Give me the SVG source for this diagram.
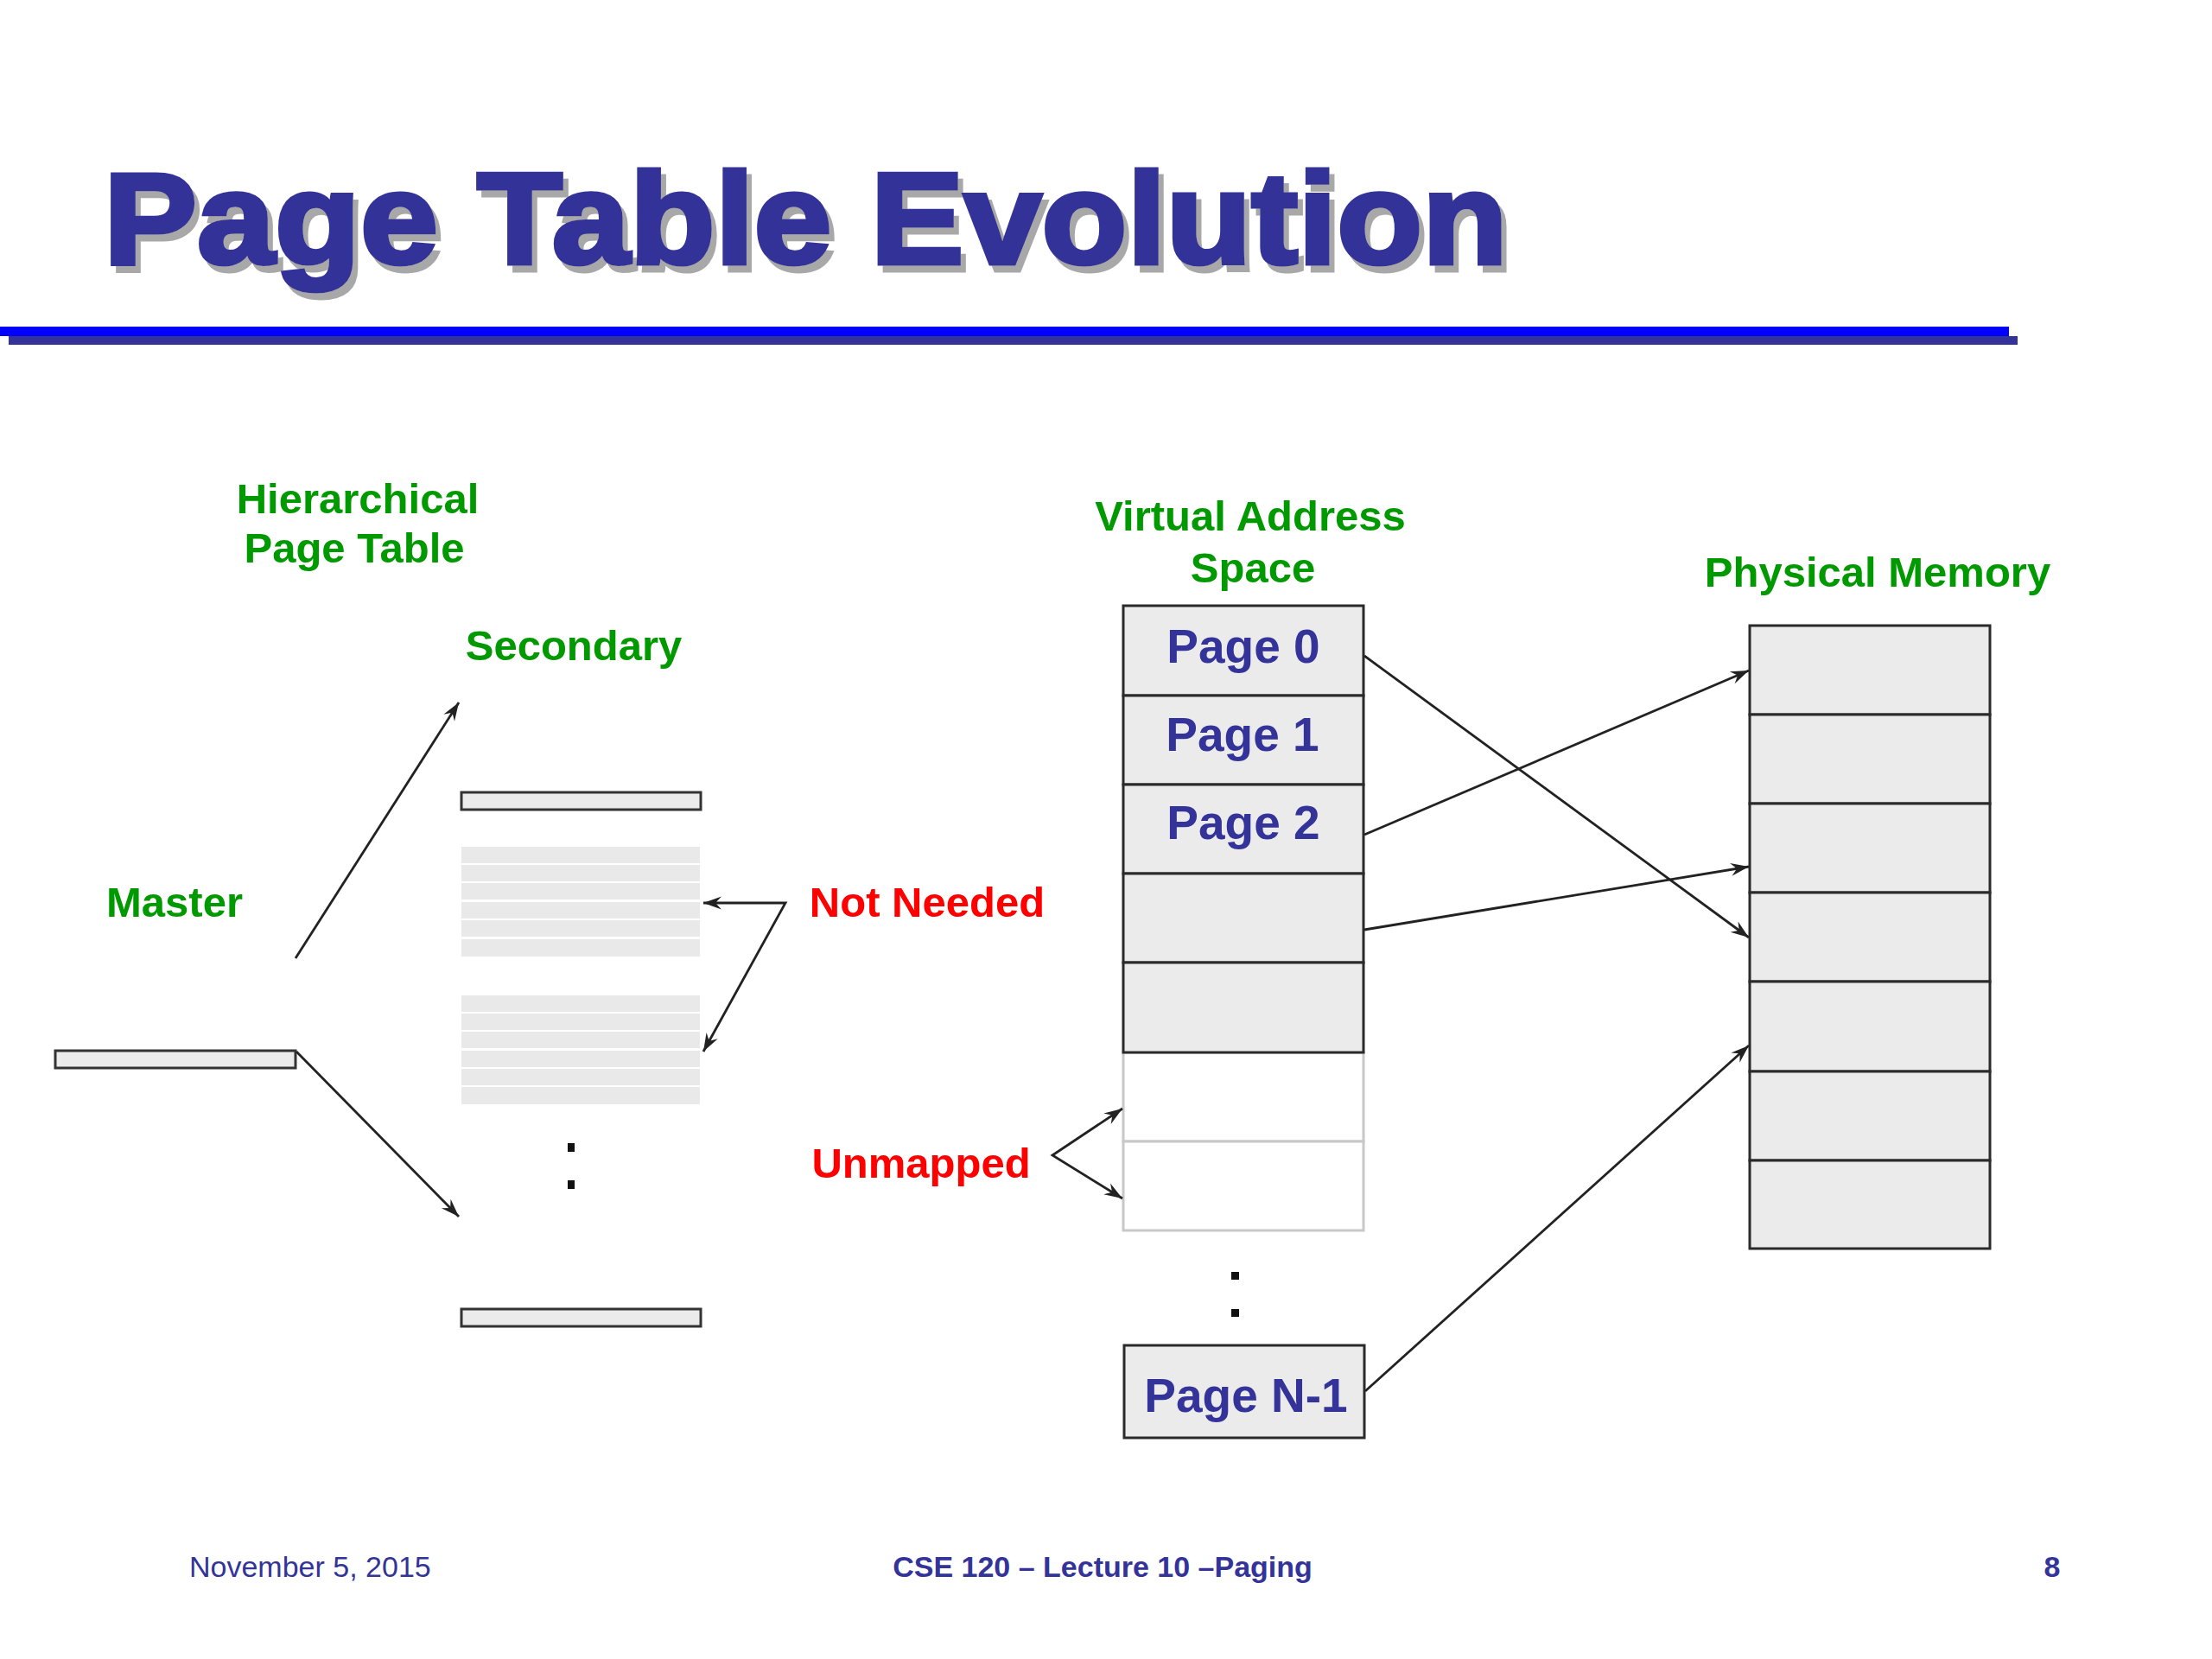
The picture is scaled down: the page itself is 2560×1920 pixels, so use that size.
<svg xmlns="http://www.w3.org/2000/svg" width="2560" height="1920" viewBox="0 0 2560 1920">
<style>
.lbl{font-family:"Liberation Sans",Arial,sans-serif;font-weight:bold;font-size:49px;fill:#009a00;text-anchor:middle}
.red{fill:#ff0000}
.pg{font-family:"Liberation Sans",Arial,sans-serif;font-weight:bold;font-size:55px;fill:#333399;text-anchor:middle}
.cell{fill:#ebebeb;stroke:#2a2a2a;stroke-width:3}
.ucell{fill:#ffffff;stroke:#c8c8c8;stroke-width:3}
.bar{fill:#ebebeb;stroke:#333;stroke-width:3}
.lt{fill:#e9e9e9}
.con{fill:none;stroke:#222;stroke-width:2.8}
.foot{font-family:"Liberation Sans",Arial,sans-serif;font-size:34px;fill:#333399}
</style>
<defs>
<marker id="ah" viewBox="-22 -9 24 18" markerWidth="24" markerHeight="18" refX="0" refY="0" orient="auto-start-reverse" markerUnits="userSpaceOnUse">
<path d="M0,0 L-21,-7.5 L-14,0 L-21,7.5 z" fill="#222"/>
</marker>
<filter id="shadow" x="-5%" y="-20%" width="110%" height="150%">
<feOffset in="SourceAlpha" dx="6" dy="8" result="off"/>
<feFlood flood-color="#a8a8a8"/>
<feComposite in2="off" operator="in" result="sh"/>
<feMerge><feMergeNode in="sh"/><feMergeNode in="SourceGraphic"/></feMerge>
</filter>
</defs>
<rect width="2560" height="1920" fill="#ffffff"/>

<g id="title">
<text x="120" y="305" font-family="'Liberation Sans',Arial,sans-serif" font-weight="bold" font-size="150" fill="#333399" stroke="#333399" stroke-width="5" textLength="1625" lengthAdjust="spacingAndGlyphs" filter="url(#shadow)">Page Table Evolution</text>
<rect x="10" y="389" width="2325" height="10" fill="#333399"/>
<rect x="0" y="378" width="2325" height="11" fill="#0000ff"/>
</g>

<g id="labels">
<text class="lbl" x="414" y="594">Hierarchical</text>
<text class="lbl" x="410" y="651">Page Table</text>
<text class="lbl" x="664" y="764">Secondary</text>
<text class="lbl" x="202" y="1061">Master</text>
<text class="lbl red" x="1073" y="1061">Not Needed</text>
<text class="lbl red" x="1066" y="1363">Unmapped</text>
<text class="lbl" x="1447" y="614">Virtual Address</text>
<text class="lbl" x="1450" y="674">Space</text>
<text class="lbl" x="2173" y="679">Physical Memory</text>
</g>

<g id="master">
<rect class="bar" x="64" y="1216" width="278" height="20"/>
</g>

<g id="secondary">
<rect class="bar" x="534" y="917" width="277" height="20"/>
<g>
<rect class="lt" x="534" y="980" width="276" height="19"/>
<rect class="lt" x="534" y="1001" width="276" height="19"/>
<rect class="lt" x="534" y="1022" width="276" height="19"/>
<rect class="lt" x="534" y="1044" width="276" height="19"/>
<rect class="lt" x="534" y="1065" width="276" height="19"/>
<rect class="lt" x="534" y="1087" width="276" height="20"/>
</g>
<g>
<rect class="lt" x="534" y="1152" width="276" height="19"/>
<rect class="lt" x="534" y="1173" width="276" height="19"/>
<rect class="lt" x="534" y="1194" width="276" height="19"/>
<rect class="lt" x="534" y="1216" width="276" height="19"/>
<rect class="lt" x="534" y="1237" width="276" height="19"/>
<rect class="lt" x="534" y="1258" width="276" height="20"/>
</g>
<rect x="657" y="1323" width="8" height="10" fill="#111"/>
<rect x="657" y="1366" width="8" height="10" fill="#111"/>
<rect class="bar" x="534" y="1515" width="277" height="20"/>
</g>

<g id="virtual">
<rect class="ucell" x="1300" y="1218" width="278" height="103"/>
<rect class="ucell" x="1300" y="1321" width="278" height="103"/>
<rect class="cell" x="1300" y="701" width="278" height="104"/>
<rect class="cell" x="1300" y="805" width="278" height="103"/>
<rect class="cell" x="1300" y="908" width="278" height="103"/>
<rect class="cell" x="1300" y="1011" width="278" height="103"/>
<rect class="cell" x="1300" y="1114" width="278" height="104"/>
<text class="pg" x="1439" y="767">Page 0</text>
<text class="pg" x="1438" y="869">Page 1</text>
<text class="pg" x="1439" y="971">Page 2</text>
<rect x="1425" y="1472" width="9" height="9" fill="#111"/>
<rect x="1425" y="1515" width="9" height="9" fill="#111"/>
</g>

<g id="pageN1">
<rect class="cell" x="1301" y="1557" width="278" height="107"/>
<text class="pg" x="1442" y="1634">Page N-1</text>
</g>

<g id="physical">
<rect class="cell" x="2025" y="724" width="278" height="103"/>
<rect class="cell" x="2025" y="827" width="278" height="103"/>
<rect class="cell" x="2025" y="930" width="278" height="103"/>
<rect class="cell" x="2025" y="1033" width="278" height="103"/>
<rect class="cell" x="2025" y="1136" width="278" height="104"/>
<rect class="cell" x="2025" y="1240" width="278" height="103"/>
<rect class="cell" x="2025" y="1343" width="278" height="102"/>
</g>

<g id="connectors">
<line class="con" x1="342" y1="1109" x2="531" y2="813" marker-end="url(#ah)"/>
<line class="con" x1="343" y1="1217" x2="531" y2="1408" marker-end="url(#ah)"/>
<polyline class="con" points="814,1045 909,1045 814,1217" marker-start="url(#ah)" marker-end="url(#ah)"/>
<polyline class="con" points="1299,1283 1218,1337 1299,1387" marker-start="url(#ah)" marker-end="url(#ah)"/>
<line class="con" x1="1579" y1="759" x2="2024" y2="1085" marker-end="url(#ah)"/>
<line class="con" x1="1579" y1="966" x2="2024" y2="776" marker-end="url(#ah)"/>
<line class="con" x1="1579" y1="1076" x2="2024" y2="1003" marker-end="url(#ah)"/>
<line class="con" x1="1580" y1="1610" x2="2024" y2="1210" marker-end="url(#ah)"/>
</g>

<g id="footer">
<text class="foot" x="219" y="1825">November 5, 2015</text>
<text class="foot" x="1276" y="1825" font-weight="bold" text-anchor="middle">CSE 120 – Lecture 10 –Paging</text>
<text class="foot" x="2375" y="1825" font-weight="bold" text-anchor="middle">8</text>
</g>
</svg>
